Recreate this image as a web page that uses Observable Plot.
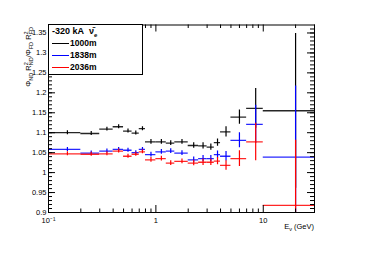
<!DOCTYPE html>
<html><head><meta charset="utf-8">
<script src="https://cdn.jsdelivr.net/npm/d3@7"></script>
<script src="https://cdn.jsdelivr.net/npm/@observablehq/plot@0.6"></script>
<style>
body{margin:0;background:#fff;font-family:"Liberation Sans",Arial,sans-serif}
#wrap{position:relative;width:374px;height:253px}
#legend{position:absolute;left:48px;top:24px;width:95px;height:51px;border:1px solid #000;background:#fff;box-sizing:border-box;font-weight:bold;font-size:8.5px;color:#000}
#legend .row{position:absolute;left:3px;height:11px;line-height:11px;white-space:nowrap}
#legend .sw{display:inline-block;width:17px;height:0;border-top:1.5px solid;vertical-align:middle;margin-right:1px}
</style></head><body><div id="wrap"></div>
<script>
// Bin edges (GeV)
const binLow  = [0.1,0.2,0.3,0.4,0.5,0.6,0.7,0.8,1.0,1.25,1.5,2.0,2.5,3.0,3.5,4.0,5.0,7.0,10];
const binHigh = [0.2,0.3,0.4,0.5,0.6,0.7,0.8,1.0,1.25,1.5,2.0,2.5,3.0,3.5,4.0,5.0,7.0,10,30];
// Ratios per detector distance
const ratio1000 = [1.100,1.098,1.109,1.115,1.104,1.099,1.110,1.077,1.077,1.074,1.077,1.068,1.067,1.064,1.075,1.102,1.139,1.161,1.155];
const err1000   = [0.005,0.005,0.005,0.005,0.005,0.005,0.005,0.006,0.006,0.006,0.006,0.007,0.008,0.008,0.009,0.013,0.018,0.050,0.194];
const ratio1838 = [1.058,1.049,1.054,1.058,1.056,1.050,1.058,1.045,1.052,1.054,1.049,1.032,1.035,1.035,1.045,1.041,1.081,1.121,1.039];
const err1838   = [0.005,0.005,0.005,0.005,0.005,0.005,0.005,0.006,0.006,0.006,0.006,0.007,0.008,0.008,0.009,0.012,0.019,0.048,0.178];
const ratio2036 = [1.047,1.046,1.047,1.054,1.041,1.046,1.052,1.032,1.035,1.024,1.028,1.024,1.026,1.026,1.029,1.018,1.035,1.077,0.918];
const err2036   = [0.005,0.005,0.005,0.005,0.005,0.005,0.005,0.006,0.006,0.006,0.006,0.007,0.008,0.008,0.009,0.012,0.020,0.047,0.163];
const seriesNames = ["1000m","1838m","2036m"];
const seriesColors = ["#000000","#0000ff","#ff0000"];
// Axis ticks
const yTicks = [0.9,0.95,1,1.05,1.1,1.15,1.2,1.25,1.3,1.35];
const yTickLabels = ["0.9","0.95","1","1.05","1.1","1.15","1.2","1.25","1.3","1.35"];
const yMinor = d3.range(91,137).map(v=>v/100);
const xMajor = [1,10];
const xMinor = [0.2,0.3,0.4,0.5,0.6,0.7,0.8,0.9,2,3,4,5,6,7,8,9,20,30];
const xTickVals = [0.1,1,10];
const xTickLabels = ["10\u207B\u00B9","1","10"];

const W=374,H=253,mL=48,mR=60,mT=24.5,mB=41;
const pw=W-mL-mR, ph=H-mT-mB;

function rows(vals,errs){return vals.map((v,i)=>({lo:binLow[i],hi:binHigh[i],c:(binLow[i]+binHigh[i])/2,v,e:errs[i]}));}
const all=[rows(ratio1000,err1000),rows(ratio1838,err1838),rows(ratio2036,err2036)];

const marks=[];
all.forEach((d,k)=>{
  marks.push(Plot.ruleY(d,{y:"v",x1:"lo",x2:"hi",stroke:seriesColors[k],strokeWidth:1.3,strokeOpacity:0.85,clip:true}));
  marks.push(Plot.ruleX(d,{x:"c",y1:r=>r.v-r.e,y2:r=>r.v+r.e,stroke:seriesColors[k],strokeWidth:1.2,clip:true}));
});
// ticks inside the frame
marks.push(Plot.ruleY(yTicks,{insetRight:pw-7,stroke:"#000",strokeWidth:1}));
marks.push(Plot.ruleY(yMinor,{insetRight:pw-4,stroke:"#000",strokeWidth:1}));
marks.push(Plot.ruleY(yTicks,{insetLeft:pw-7,stroke:"#000",strokeWidth:1}));
marks.push(Plot.ruleY(yMinor,{insetLeft:pw-4,stroke:"#000",strokeWidth:1}));
marks.push(Plot.ruleX(xMajor,{insetTop:ph-7,stroke:"#000",strokeWidth:1}));
marks.push(Plot.ruleX(xMinor,{insetTop:ph-3.5,stroke:"#000",strokeWidth:1}));
marks.push(Plot.ruleX(xMajor,{insetBottom:ph-7,stroke:"#000",strokeWidth:1}));
marks.push(Plot.ruleX(xMinor,{insetBottom:ph-3.5,stroke:"#000",strokeWidth:1}));
marks.push(Plot.frame({stroke:"#000",strokeWidth:1}));
marks.push(Plot.axisY(yTicks,{tickSize:0,tickPadding:2,fontSize:7.5,tickFormat:d=>yTickLabels[yTicks.indexOf(d)]}));
marks.push(Plot.axisX(xTickVals,{tickSize:0,tickPadding:5,fontSize:7.5,tickFormat:d=>xTickLabels[xTickVals.indexOf(d)]}));

const chart=Plot.plot({
  width:W,height:H,marginLeft:mL,marginRight:mR,marginTop:mT,marginBottom:mB,
  style:{fontFamily:"Liberation Sans, Arial, sans-serif",color:"#000",background:"#fff"},
  x:{type:"log",domain:[0.1,30],label:null},
  y:{domain:[0.9,1.37],label:null},
  marks
});
document.getElementById("wrap").appendChild(chart);

// axis titles
const svg=d3.select(chart);
const xt=svg.append("text").attr("x",314).attr("y",229).attr("text-anchor","end")
  .attr("font-size",7.5).attr("fill","#000");
xt.append("tspan").text("E");
xt.append("tspan").attr("font-size",5.5).attr("dy",1.5).text("\u03BD");
xt.append("tspan").attr("dy",-1.5).text(" (GeV)");

const yt=svg.append("text").attr("transform","translate(31,27) rotate(-90)").attr("text-anchor","end")
  .attr("font-size",7.5).attr("fill","#000");
function sub(t,s){yt.append("tspan").attr("font-size",5.5).attr("dy",2).text(s);yt.append("tspan").attr("dy",-2).text("");}
yt.append("tspan").text("\u03A6");
yt.append("tspan").attr("font-size",5.5).attr("dy",2).text("ND");
yt.append("tspan").attr("dy",-2).text(" R");
yt.append("tspan").attr("font-size",5.5).attr("dy",-3).text("2");
yt.append("tspan").attr("font-size",5.5).attr("dx",-3).attr("dy",5).text("ND");
yt.append("tspan").attr("dy",-2).text("/\u03A6");
yt.append("tspan").attr("font-size",5.5).attr("dy",2).text("FD");
yt.append("tspan").attr("dy",-2).text(" R");
yt.append("tspan").attr("font-size",5.5).attr("dy",-3).text("2");
yt.append("tspan").attr("font-size",5.5).attr("dx",-3).attr("dy",5).text("FD");

// legend
const lg=document.createElement("div");lg.id="legend";
let html='<div class="row" style="top:1px;font-size:9px">-320 kA&nbsp; \u03BD\u0304<sub style="font-size:6px">e</sub></div>';
const tops=[13,24.5,37];
seriesNames.forEach((n,k)=>{html+=`<div class="row" style="top:${tops[k]}px"><span class="sw" style="border-color:${seriesColors[k]}"></span>${n}</div>`;});
lg.innerHTML=html;
document.getElementById("wrap").appendChild(lg);
</script></body></html>
